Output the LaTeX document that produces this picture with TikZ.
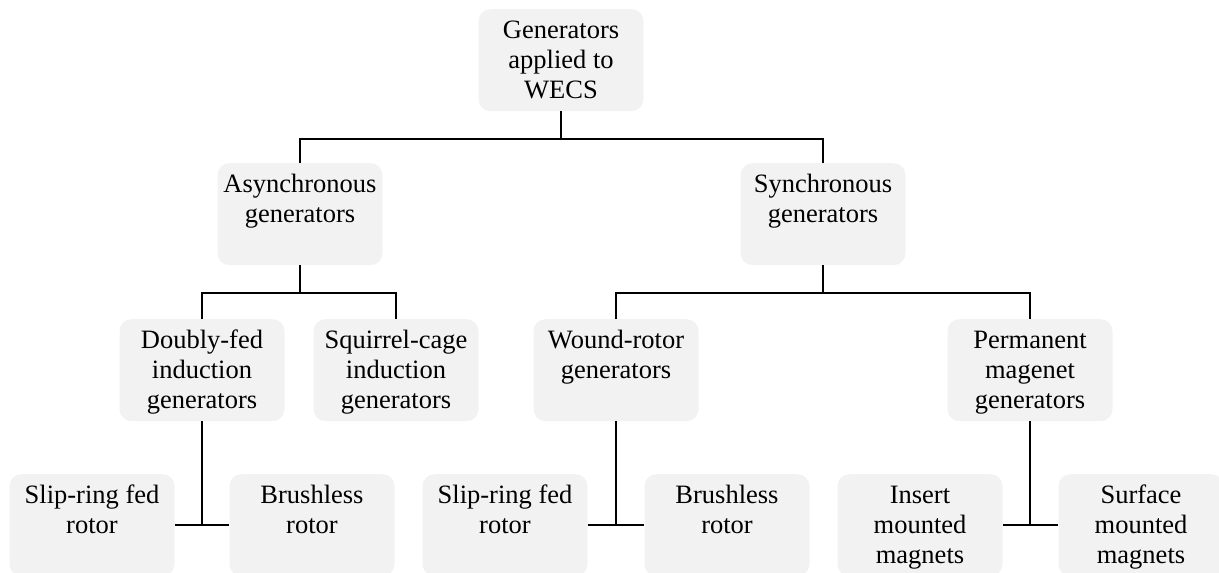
\documentclass[tikz,border=0pt]{standalone}
\usepackage{fontspec}
\setmainfont{Liberation Serif}
\usetikzlibrary{calc}
\definecolor{boxgray}{HTML}{F2F2F2}
\tikzset{
  gbox/.style={rounded corners=12pt, fill=boxgray, minimum width=165pt,
               minimum height=102pt, inner sep=0pt},
  gtxt/.style={align=center, inner sep=0pt, font=\fontsize{26.5}{30}\selectfont},
  link/.style={line width=1.6pt, black},
}
% box with its caption set from the top edge
\newcommand\genbox[4]{%
  \node[gbox, anchor=north] (#1) at (#2,#3) {};
  \node[gtxt, anchor=north] (#1-t) at ([yshift=-8pt]#1.north) {\strut #4};
}
\begin{document}
\begin{tikzpicture}[x=1pt, y=-1pt]
\clip (0,0) rectangle (1219,573);
\useasboundingbox (0,0) rectangle (1219,573);

% level 0
\genbox{gen}{561}{9}{Generators\\applied to\\WECS}
% level 1
\genbox{async}{300}{163}{Asynchronous\\generators}
\genbox{sync}{823}{163}{Synchronous\\generators}
% level 2
\genbox{dfig}{202}{319}{Doubly-fed\\induction\\generators}
\genbox{scig}{396}{319}{Squirrel-cage\\induction\\generators}
\genbox{wrsg}{616}{319}{Wound-rotor\\generators}
\genbox{pmsg}{1030}{319}{Permanent\\magenet\\generators}
% level 3
\genbox{sra}{92}{474}{Slip-ring fed\\rotor}
\genbox{bla}{312}{474}{Brushless\\rotor}
\genbox{srb}{505}{474}{Slip-ring fed\\rotor}
\genbox{blb}{727}{474}{Brushless\\rotor}
\genbox{ins}{920}{474}{Insert\\mounted\\magnets}
\genbox{surf}{1141}{474}{Surface\\mounted\\magnets}

% junction levels
\coordinate (j0) at (561,139);
\coordinate (j1) at (300,293);
\coordinate (j2) at (823,293);

\draw[link] (gen.south) -- (j0);
\draw[link] (async.north) -- (async.north |- j0) -- (sync.north |- j0) -- (sync.north);

\draw[link] (async.south) -- (j1);
\draw[link] (dfig.north) -- (dfig.north |- j1) -- (scig.north |- j1) -- (scig.north);

\draw[link] (sync.south) -- (j2);
\draw[link] (wrsg.north) -- (wrsg.north |- j2) -- (pmsg.north |- j2) -- (pmsg.north);

\draw[link] (dfig.south) -- (dfig.south |- sra.east);
\draw[link] (sra.east) -- (bla.west);
\draw[link] (wrsg.south) -- (wrsg.south |- srb.east);
\draw[link] (srb.east) -- (blb.west);
\draw[link] (pmsg.south) -- (pmsg.south |- ins.east);
\draw[link] (ins.east) -- (surf.west);
\end{tikzpicture}
\end{document}
